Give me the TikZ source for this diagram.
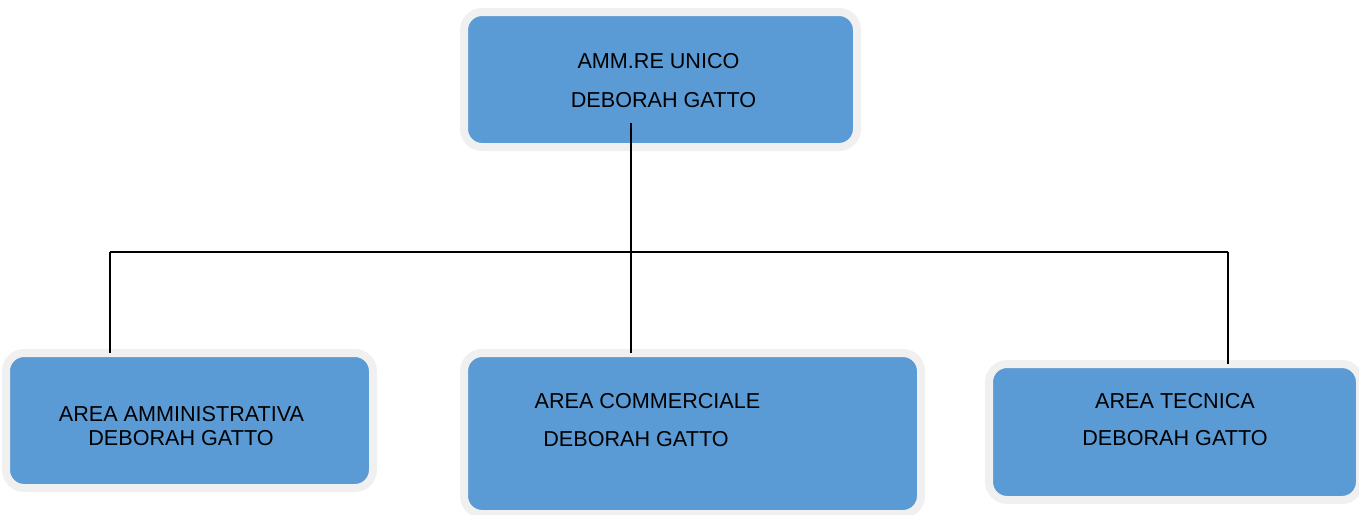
\documentclass[tikz,border=0pt]{standalone}
\usepackage{fontspec}
\setmainfont{Liberation Sans}
\usetikzlibrary{fit}

\definecolor{boxblue}{RGB}{91,155,213}
\definecolor{boxrim}{RGB}{240,240,240}

\tikzset{every picture/.style={line width=0.75pt}}
\tikzset{
  areabox/.style={fill=boxblue, draw=boxrim, line width=6pt, rounded corners=13.5pt, inner sep=0pt, outer sep=0pt},
  areatext/.style={anchor=base, inner sep=0pt, font=\fontsize{16.2}{19}\selectfont},
  orgline/.style={line width=1.5}
}

\begin{document}
\begin{tikzpicture}[x=0.75pt,y=0.75pt,yscale=-1,xscale=1]
\useasboundingbox (0,0) rectangle (1359,514);

%Shape: Rounded Rect [id:amm] 
\node [areabox, fit={(464,12) (857,147)}] (amm) {};
%Shape: Rounded Rect [id:amministrativa] 
\node [areabox, fit={(6,353) (373,488)}] (amministrativa) {};
%Shape: Rounded Rect [id:commerciale] 
\node [areabox, fit={(464,353) (921,514)}] (commerciale) {};
%Shape: Rounded Rect [id:tecnica] 
\node [areabox, fit={(989,364) (1360,500)}] (tecnica) {};

%Straight Lines 
\coordinate (stem) at (631,123);
\coordinate (busL) at (110,252);
\coordinate (busR) at (1228,252);
\draw [orgline] (busL) -- (busR) ;
\draw [orgline] (stem) -- (commerciale.north -| stem) ;
\draw [orgline] (busL) -- (amministrativa.north -| busL) ;
\draw [orgline] (busR) -- (tecnica.north -| busR) ;

% Text Node
\node [areatext] (ammrole) at (658.5,68) {AMM.RE UNICO};
% Text Node
\node [areatext] (ammname) at (663.5,107) {DEBORAH GATTO};
% Text Node
\node [areatext] (amministrativarole) at (181.5,421) {AREA AMMINISTRATIVA};
% Text Node
\node [areatext] (amministrativaname) at (181,445) {DEBORAH GATTO};
% Text Node
\node [areatext] (commercialerole) at (647.5,408) {AREA COMMERCIALE};
% Text Node
\node [areatext] (commercialename) at (636,446) {DEBORAH GATTO};
% Text Node
\node [areatext] (tecnicarole) at (1175,408) {AREA TECNICA};
% Text Node
\node [areatext] (tecnicaname) at (1175,445) {DEBORAH GATTO};

\end{tikzpicture}
\end{document}
